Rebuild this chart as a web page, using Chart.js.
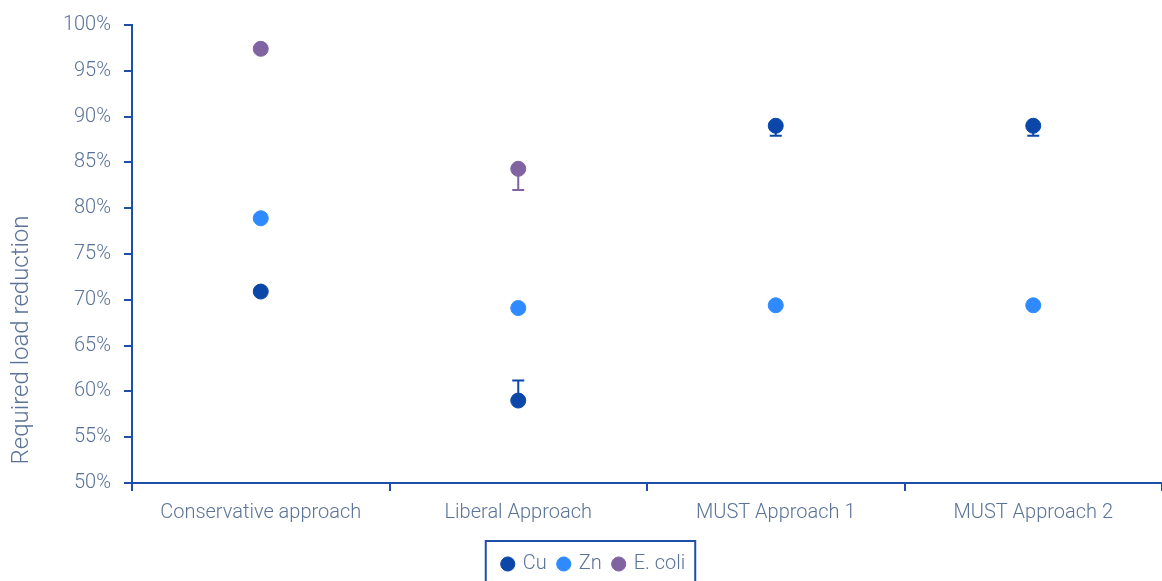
<!DOCTYPE html>
<html>
<head>
<meta charset="utf-8">
<script src="https://cdn.jsdelivr.net/npm/chart.js@4.4.1/dist/chart.umd.min.js"></script>
<style>
  html, body { margin: 0; padding: 0; background: #ffffff; overflow: hidden; }
  #wrap { width: 1162px; height: 581px; }
</style>
</head>
<body>
<div id="wrap"><canvas id="loadChart" width="1162" height="581"></canvas></div>
<script>
// Categories and values (percent of load reduction)
const approaches = ['Conservative approach', 'Liberal Approach', 'MUST Approach 1', 'MUST Approach 2'];
const yTicks = [50, 55, 60, 65, 70, 75, 80, 85, 90, 95, 100];

const cuValues = [70.9, 59.0, 89.0, 89.0];
const znValues = [78.9, 69.1, 69.4, 69.4];
const ecoliValues = [97.4, 84.3, null, null];

// one-sided error bars: amount above / below each point
const cuErrUp = [0, 2.2, 0, 0];
const cuErrDown = [0, 0, 1.1, 1.1];
const znErrUp = [0, 0, 0, 0];
const znErrDown = [0, 0.4, 0.3, 0.3];
const ecoliErrUp = [0, 0, 0, 0];
const ecoliErrDown = [0, 2.3, 0, 0];

const axisBlue = '#1d4fa8';
const textColor = '#5a7396';
const fontFamily = 'Roboto, "Open Sans", sans-serif';
const legendShiftX = 13;
const legendShiftY = 3;

const ctx = document.getElementById('loadChart').getContext('2d');

// draw error bars under the dots
const errorBars = {
    id: 'errorBars',
    beforeDatasetsDraw(chart) {
        const c = chart.ctx;
        const yScale = chart.scales.y;
        chart.data.datasets.forEach((ds, i) => {
            const meta = chart.getDatasetMeta(i);
            c.save();
            c.strokeStyle = ds.borderColor;
            c.lineWidth = 2;
            meta.data.forEach((pt, j) => {
                const v = ds.data[j];
                if (v === null) return;
                const up = ds.errUp[j];
                const down = ds.errDown[j];
                [[up, 1], [down, -1]].forEach(([e, dir]) => {
                    if (!e) return;
                    const yEnd = yScale.getPixelForValue(v + dir * e);
                    c.beginPath();
                    c.moveTo(pt.x, pt.y);
                    c.lineTo(pt.x, yEnd);
                    c.moveTo(pt.x - 6, yEnd);
                    c.lineTo(pt.x + 6, yEnd);
                    c.stroke();
                });
            });
            c.restore();
        });
    }
};

// nudge the legend, then add the y axis title and the legend frame
const extras = {
    id: 'extras',
    afterLayout(chart) {
        chart.legend.left += legendShiftX;
        chart.legend.right += legendShiftX;
        chart.legend.top += legendShiftY;
        chart.legend.bottom += legendShiftY;
    },
    afterDraw(chart) {
        const c = chart.ctx;
        c.save();
        c.translate(22, 340);
        c.rotate(-Math.PI / 2);
        c.fillStyle = textColor;
        c.font = '300 24px ' + fontFamily;
        c.textAlign = 'center';
        c.textBaseline = 'middle';
        c.fillText('Required load reduction', 0, 0);
        c.restore();

        const lg = chart.legend;
        const pad = lg.options.labels.padding;
        const contentW = lg.lineWidths[0];
        const start = (lg.left + pad + lg.right - contentW) / 2;
        const left = start - 17;
        const right = start + contentW - pad + 10;
        c.save();
        c.strokeStyle = axisBlue;
        c.lineWidth = 2;
        c.strokeRect(left, lg.top - 1, right - left, chart.height);
        c.restore();
    }
};

new Chart(ctx, {
    type: 'line',
    data: {
        labels: approaches,
        datasets: [
            {
                label: 'Cu',
                data: cuValues,
                errUp: cuErrUp,
                errDown: cuErrDown,
                borderColor: '#0a47a8',
                backgroundColor: '#0a47a8',
                showLine: false,
                pointRadius: 7.5,
                pointHoverRadius: 7.5
            },
            {
                label: 'Zn',
                data: znValues,
                errUp: znErrUp,
                errDown: znErrDown,
                borderColor: '#2f8aff',
                backgroundColor: '#2f8aff',
                showLine: false,
                pointRadius: 7.5,
                pointHoverRadius: 7.5
            },
            {
                label: 'E. coli',
                data: ecoliValues,
                errUp: ecoliErrUp,
                errDown: ecoliErrDown,
                borderColor: '#8064a2',
                backgroundColor: '#8064a2',
                showLine: false,
                pointRadius: 7.5,
                pointHoverRadius: 7.5
            }
        ]
    },
    options: {
        responsive: false,
        animation: false,
        layout: { autoPadding: false, padding: { top: 21, right: 0, left: 0, bottom: 0 } },
        plugins: {
            tooltip: { enabled: false },
            legend: {
                position: 'bottom',
                labels: {
                    usePointStyle: true,
                    pointStyle: 'circle',
                    boxWidth: 10,
                    boxHeight: 10,
                    padding: 12,
                    color: textColor,
                    font: { family: fontFamily, size: 20, weight: '300' }
                }
            }
        },
        scales: {
            x: {
                offset: true,
                afterFit(scale) {
                    scale.height += 4;
                },
                border: { color: axisBlue, width: 2 },
                grid: {
                    offset: true,
                    drawOnChartArea: false,
                    drawTicks: true,
                    tickLength: 8,
                    color: axisBlue,
                    lineWidth: 2
                },
                ticks: {
                    color: textColor,
                    padding: 10,
                    maxRotation: 0,
                    font: { family: fontFamily, size: 20, weight: '300' }
                }
            },
            y: {
                min: 50,
                max: 100,
                afterBuildTicks(scale) {
                    scale.ticks = yTicks.map(v => ({ value: v }));
                },
                afterFit(scale) {
                    scale.width = 132;
                },
                border: { color: axisBlue, width: 2 },
                grid: {
                    drawOnChartArea: false,
                    drawTicks: true,
                    tickLength: 8,
                    color: axisBlue,
                    lineWidth: 2
                },
                ticks: {
                    color: textColor,
                    padding: 13,
                    callback: v => v + '%',
                    font: { family: fontFamily, size: 20, weight: '300' }
                }
            }
        }
    },
    plugins: [errorBars, extras]
});
</script>
</body>
</html>
